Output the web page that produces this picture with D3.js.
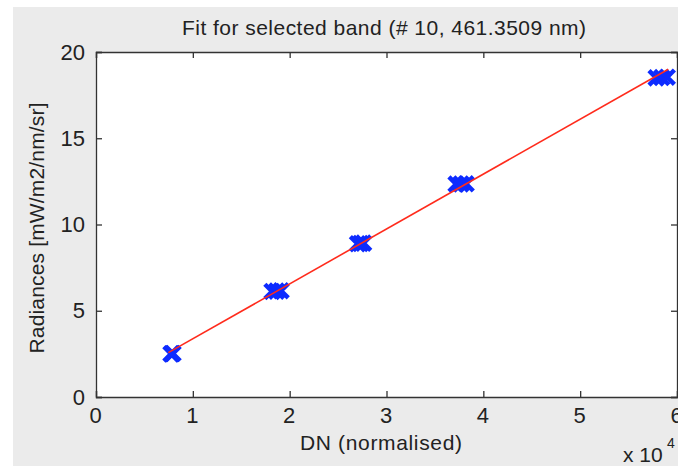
<!DOCTYPE html>
<html>
<head>
<meta charset="utf-8">
<script src="https://cdn.jsdelivr.net/npm/d3@7"></script>
<style>
  body { margin: 0; background: #fff; }
  text { font-family: "Liberation Sans", Arial, sans-serif; fill: #222; }
</style>
</head>
<body>
<div id="chart"></div>
<script>
// measured points (DN, radiance) - several repeats per level
const dnValues = [7750, 7850, 7950, 18180, 18650, 19110, 27010, 27320, 27630, 37190, 37700, 38220, 57850, 58420, 58990]
const radValues = [2.5, 2.51, 2.52, 6.12, 6.14, 6.16, 8.88, 8.9, 8.92, 12.34, 12.35, 12.36, 18.5, 18.52, 18.54]

// fitted line end points
const fitX = [7467, 59100]
const fitY = [2.57, 19.0]

const xTicks = [0, 1, 2, 3, 4, 5, 6]
const yTicks = [0, 5, 10, 15, 20]

const width = 678
const height = 466
const margin = { top: 52, right: 1, bottom: 69, left: 96 }
const boundedWidth = width - margin.left - margin.right
const boundedHeight = height - margin.top - margin.bottom

const svg = d3.select("#chart")
  .append("svg")
    .attr("width", width)
    .attr("height", height)

// figure background
svg.append("rect")
  .attr("x", 13).attr("y", 7)
  .attr("width", width - 13).attr("height", height - 7)
  .attr("fill", "#ebebeb")

const bounds = svg.append("g")
  .attr("transform", `translate(${margin.left},${margin.top})`)

const xScale = d3.scaleLinear()
  .domain([0, 60000])
  .range([0, boundedWidth])

const yScale = d3.scaleLinear()
  .domain([0, 20])
  .range([boundedHeight, 0])

bounds.append("rect")
  .attr("width", boundedWidth)
  .attr("height", boundedHeight)
  .attr("fill", "#fff")

// axes (ticks inside, on all four sides, like matlab box on)
const tickLen = 6
const xAxisB = d3.axisBottom(xScale).tickValues(xTicks.map(d => d * 1e4)).tickSize(-tickLen).tickFormat(d => d / 1e4).tickPadding(10)
const xAxisT = d3.axisTop(xScale).tickValues(xTicks.map(d => d * 1e4)).tickSize(-tickLen).tickFormat("")
const yAxisL = d3.axisLeft(yScale).tickValues(yTicks).tickSize(-tickLen).tickPadding(11)
const yAxisR = d3.axisRight(yScale).tickValues(yTicks).tickSize(-tickLen).tickFormat("")

const gxB = bounds.append("g").attr("transform", `translate(0,${boundedHeight})`).call(xAxisB)
const gxT = bounds.append("g").call(xAxisT)
const gyL = bounds.append("g").call(yAxisL)
const gyR = bounds.append("g").attr("transform", `translate(${boundedWidth},0)`).call(yAxisR)

;[gxB, gxT, gyL, gyR].forEach(g => {
  g.select(".domain").attr("stroke", "#333").attr("stroke-width", 1.3)
  g.selectAll(".tick line").attr("stroke", "#333").attr("stroke-width", 1.3)
  g.selectAll(".tick text").style("font-size", "22px").attr("fill", "#222")
})
gxB.selectAll(".tick text").attr("dy", "0.72em").attr("dx", -1)
gyL.selectAll(".tick text").attr("dy", "0.32em")

// markers: thick x crosses
const xMark = (r) => {
  const p = d3.path()
  p.moveTo(-r, -r); p.lineTo(r, r)
  p.moveTo(-r, r); p.lineTo(r, -r)
  return p.toString()
}
bounds.append("g")
  .selectAll("path")
  .data(dnValues)
  .join("path")
    .attr("d", xMark(7.2))
    .attr("transform", (d, i) => `translate(${xScale(d)},${yScale(radValues[i])})`)
    .attr("fill", "none")
    .attr("stroke", "#0d2bff")
    .attr("stroke-width", 4.5)

// fit line
const line = d3.line()
  .x(d => xScale(d[0]))
  .y(d => yScale(d[1]))
bounds.append("path")
  .attr("d", line(fitX.map((x, i) => [x, fitY[i]])))
  .attr("fill", "none")
  .attr("stroke", "#ff2b1c")
  .attr("stroke-width", 1.6)

// title and labels
svg.append("text")
  .attr("x", 384).attr("y", 35)
  .attr("text-anchor", "middle")
  .attr("textLength", 404)
  .attr("lengthAdjust", "spacing")
  .style("font-size", "21px")
  .text("Fit for selected band (# 10, 461.3509 nm)")

svg.append("text")
  .attr("x", 381).attr("y", 450)
  .attr("text-anchor", "middle")
  .attr("textLength", 162)
  .attr("lengthAdjust", "spacing")
  .style("font-size", "21px")
  .text("DN (normalised)")

svg.append("text")
  .attr("transform", "translate(44,228) rotate(-90)")
  .attr("text-anchor", "middle")
  .attr("textLength", 251)
  .attr("lengthAdjust", "spacing")
  .style("font-size", "21px")
  .text("Radiances [mW/m2/nm/sr]")

svg.append("text")
  .attr("x", 623).attr("y", 462)
  .style("font-size", "21px")
  .text("x 10")
svg.append("text")
  .attr("x", 667).attr("y", 448)
  .style("font-size", "14px")
  .text("4")
</script>
</body>
</html>
